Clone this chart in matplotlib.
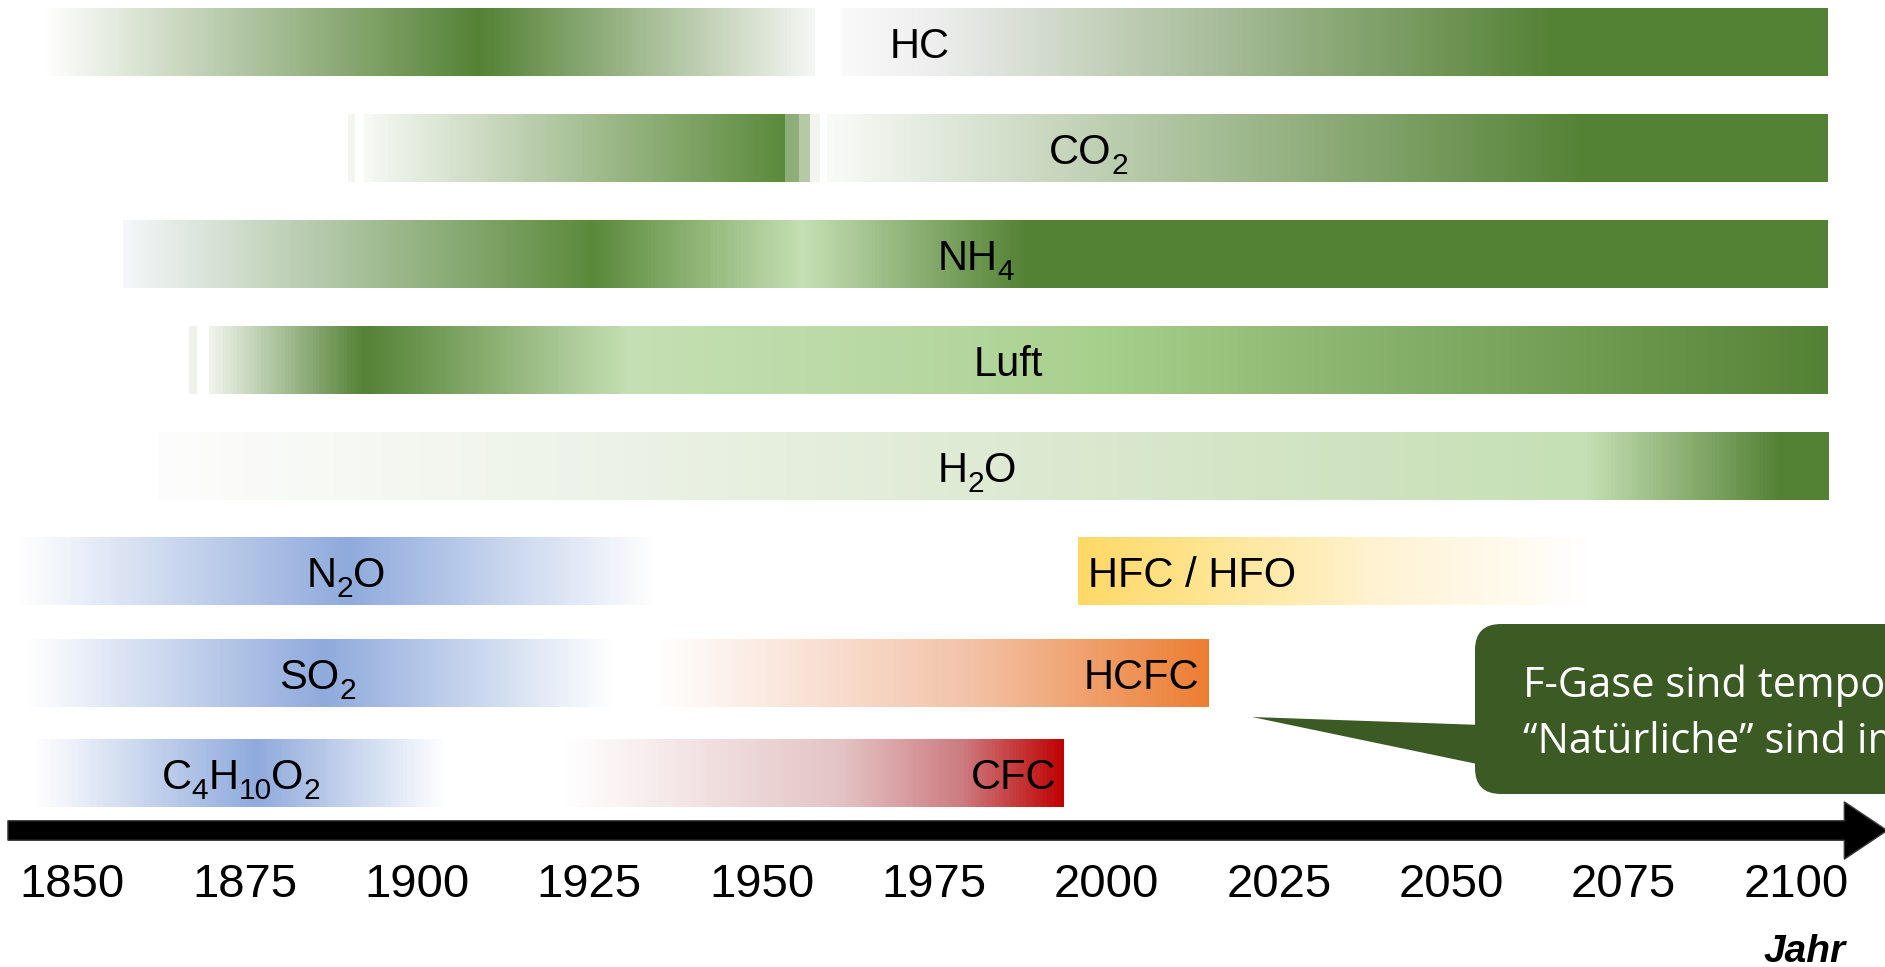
import re
import numpy as np
import matplotlib.pyplot as plt
from matplotlib.colors import to_rgb
from matplotlib.patches import FancyArrow, FancyBboxPatch, Polygon

plt.rcParams['font.family'] = ['Liberation Sans', 'DejaVu Sans']

W, H = 1885, 967

# --- data -------------------------------------------------------------
YEARS = [1850, 1875, 1900, 1925, 1950, 1975, 2000, 2025, 2050, 2075, 2100]

# gradient segments (row, colour stops over the years)
SEG_ROWS = [0, 0, 1, 1, 1, 2, 3, 3, 4, 5, 5, 6, 6, 7, 7]
SEG_YEARS = [
    [1846.1, 1909.0, 1957.7],                                   # HC
    [1961.7, 1975.0, 2064.8, 2104.6],                           # HC
    [1890.0, 1891.0],                                           # CO2
    [1892.3, 1953.4, 1953.5, 1955.1, 1955.2, 1956.8, 1956.9, 1958.3],
    [1959.5, 2069.3, 2104.6],                                   # CO2
    [1857.4, 1925.7, 1956.0, 1988.3, 2104.6],                   # NH4
    [1867.0, 1868.1],                                           # Luft
    [1869.9, 1892.3, 1931.0, 1977.0, 1997.3, 2104.6],
    [1862.4, 1977.0, 2036.5, 2069.4, 2097.5, 2104.6],           # H2O
    [1842.2, 1890.1, 1934.5],                                   # N2O
    [1995.9, 2013.7, 2040.0, 2069.6],                           # HFC / HFO
    [1843.4, 1886.6, 1928.4],                                   # SO2
    [1934.5, 1979.0, 2014.7],                                   # HCFC
    [1844.8, 1876.7, 1904.0],                                   # C4H10O2
    [1921.5, 1961.5, 1979.0, 1993.8],                           # CFC
]
SEG_COLORS = [
    ['#ffffff', '#548235', '#f6f7f4'],
    ['#fafafa', '#eeeeee', '#548235', '#548235'],
    ['#f3f5f1', '#f3f5f1'],
    ['#f8faf6', '#5a8a3a', '#8fad78', '#8fad78', '#b6c8a6', '#b6c8a6', '#f1f4ef', '#f1f4ef'],
    ['#fafbf9', '#548235', '#548235'],
    ['#f5f7fb', '#5a8a3a', '#c5e0b4', '#548235', '#548235'],
    ['#eef2ea', '#eef2ea'],
    ['#f2f5ef', '#548235', '#c5e0b4', '#b5d79f', '#a9d18e', '#548235'],
    ['#fdfdfd', '#e0ebd6', '#cfe3c0', '#c5e0b4', '#548235', '#548235'],
    ['#ffffff', '#8faadc', '#ffffff'],
    ['#ffd966', '#ffe48f', '#fff3d3', '#ffffff'],
    ['#ffffff', '#8faadc', '#ffffff'],
    ['#ffffff', '#f3c4ab', '#ed7d31'],
    ['#ffffff', '#8faadc', '#ffffff'],
    ['#ffffff', '#e4c3c5', '#cd7c80', '#c00000'],
]

# digits in the names are drawn as subscripts
GAS_LABELS = ['HC', 'CO2', 'NH4', 'Luft', 'H2O', 'N2O', 'HFC / HFO',
              'SO2', 'HCFC', 'C4H10O2', 'CFC']
GAS_ROWS = [0, 1, 2, 3, 4, 5, 5, 6, 6, 7, 7]
GAS_LABEL_YEAR = [1968.5, 1991.7, 1975.5, 1980.8, 1975.5, 1884.0, 1997.3,
                  1880.0, 1996.7, 1863.0, 1980.4]

CALLOUT_LINES = ['F-Gase sind temporär,', '\u201cNatürliche\u201d sind immer da']

# --- layout (pixels from top) ----------------------------------------
ROW_TOP = [8, 114, 220, 326, 432, 537, 639, 739]
ROW_H = 68
LABEL_FS = 30
SUB_FS = 21.5
SUB_DROP = 10

fig = plt.figure(figsize=(W / 100, H / 100), dpi=100)
ax = fig.add_axes([0, 0, 1, 1])
ax.set_xlim(1839.55, 2112.9)
ax.set_ylim(H, 0)

# bars as gradient strips
for row, yrs, cols in zip(SEG_ROWS, SEG_YEARS, SEG_COLORS):
    x0, x1 = yrs[0], yrs[-1]
    n = max(2, int(round((x1 - x0) / 0.5)))
    xs = x0 + (np.arange(n) + 0.5) * (x1 - x0) / n
    rgb = np.array([to_rgb(c) for c in cols])
    img = np.stack([np.interp(xs, yrs, rgb[:, k]) for k in range(3)], axis=-1)
    top = ROW_TOP[row]
    ax.imshow(img[None, :, :], extent=(x0, x1, top + ROW_H, top),
              aspect='auto', interpolation='nearest', zorder=1)


def chem_label(x, base, s):
    parts = re.findall(r'\d+|\D+', s)
    prev = None
    for p in parts:
        sub = p.isdigit()
        y = base + SUB_DROP if sub else base
        fs = SUB_FS if sub else LABEL_FS
        if prev is None:
            prev = ax.text(x, y, p, fontsize=fs, ha='left', va='baseline',
                           zorder=3)
        else:
            prev = ax.annotate(p, xy=(1, y), xycoords=(prev, 'data'),
                               fontsize=fs, ha='left', va='baseline',
                               zorder=3)


for lab, row, yr in zip(GAS_LABELS, GAS_ROWS, GAS_LABEL_YEAR):
    chem_label(yr, ROW_TOP[row] + 50, lab)

# time axis arrow
ax.add_patch(FancyArrow(1840.7, 830.5, 2113.2 - 1840.7, 0, width=19.5,
                        head_width=57.3, head_length=6.2,
                        length_includes_head=True, fc='black', ec='#3a3a3a',
                        lw=1, zorder=2))
for yr in YEARS:
    ax.text(yr, 897, str(yr), fontsize=34, ha='center', va='baseline')
ax.text(2107.2, 962, 'Jahr', fontsize=28, fontweight='bold', fontstyle='italic',
        ha='right', va='baseline')

ax.set_xlim(1839.55, 2112.9)
ax.set_ylim(H, 0)
ax.axis('off')

# callout in pixel coordinates
ax2 = fig.add_axes([0, 0, 1, 1])
ax2.set_xlim(0, W)
ax2.set_ylim(H, 0)
ax2.axis('off')
ax2.patch.set_alpha(0)
green = '#3b5a24'
ax2.add_patch(FancyBboxPatch((1475, 624), 600, 170,
                             boxstyle='round,pad=0,rounding_size=26',
                             fc=green, ec='none'))
ax2.add_patch(Polygon([(1252, 717), (1482, 725), (1482, 765)], closed=True,
                      fc=green, ec='none'))
for i, line in enumerate(CALLOUT_LINES):
    ax2.text(1523, 696.7 + i * 56.6, line, family=['Open Sans', 'DejaVu Sans'],
             fontsize=30, color='white', ha='left', va='baseline', clip_on=True)

fig.savefig('out.png', dpi=100)
